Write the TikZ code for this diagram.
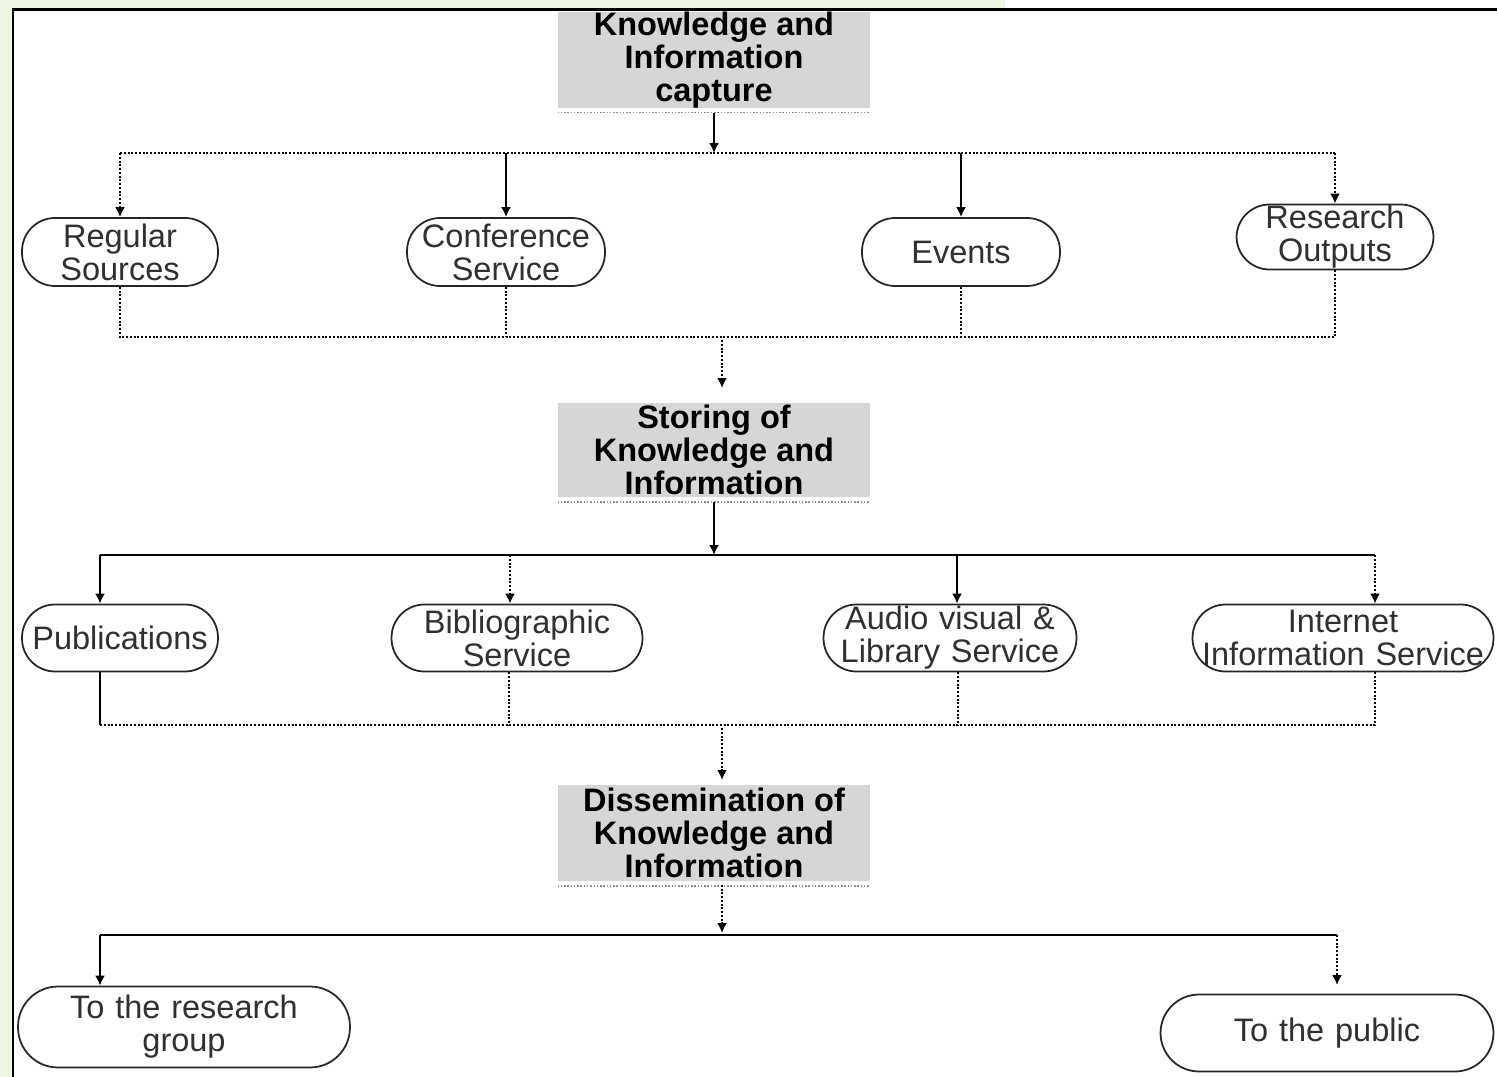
\documentclass[tikz,border=0pt]{standalone}
\usepackage{fontspec}
\setmainfont{Liberation Sans}
\usetikzlibrary{arrows.meta}
\definecolor{bggreen}{HTML}{EEF5E2}
\definecolor{boxgray}{HTML}{D6D6D6}
\definecolor{txtgray}{HTML}{303030}
\begin{document}
\begin{tikzpicture}[x=0.02cm,y=-0.02cm,
  pill/.style={draw=black!85, line width=0.035cm, rounded corners=0.66cm, inner sep=0pt,
    minimum height=1.36cm, align=center, text=txtgray, font=\fontsize{18.5}{18.8}\selectfont},
  head/.style={fill=boxgray, inner sep=0pt, minimum width=6.24cm, align=center,
    font=\bfseries\fontsize{18.5}{18.8}\selectfont},
  sol/.style={line width=0.04cm, black},
  dotl/.style={line width=0.04cm, black, densely dotted},
  tip/.style={-{Latex[length=0.2cm,width=0.2cm]}},
  faint/.style={black!45, densely dotted, line width=0.03cm}]
\useasboundingbox (0,0) rectangle (1497,1077);
\fill[white] (0,0) rectangle (1497,1077);
\fill[bggreen] (0,0) rectangle (12,1077);
\fill[bggreen] (0,0) rectangle (1005,9);
\draw[line width=0.06cm] (13,1077) -- (13,10) -- (1497,10);

% header boxes
\node[head, minimum height=1.92cm] (cap) at (714,60) {Knowledge and\\Information\\capture};
\node[head, minimum height=1.9cm] (stor) at (714,450) {Storing of\\Knowledge and\\Information};
\node[head, minimum height=1.94cm] (diss) at (714,833) {Dissemination of\\Knowledge and\\Information};
\foreach \n in {cap,stor,diss}
  \draw[faint] ([yshift=-0.08cm]\n.south west) -- ([yshift=-0.08cm]\n.south east);

% row 1
\node[pill, text width=3.92cm] (rs) at (120,252) {Regular\\Sources};
\node[pill, text width=3.96cm] (conf) at (506,252) {Conference\\Service};
\node[pill, text width=3.96cm] (ev) at (961,252) {Events};
\node[pill, text width=3.94cm, minimum height=1.3cm] (ro) at (1335,237) {Research\\Outputs};

% row 2
\node[pill, text width=3.92cm, minimum height=1.34cm] (pub) at (120,638) {Publications};
\node[pill, text width=5.02cm, minimum height=1.34cm] (bib) at (517,638) {Bibliographic\\Service};
\node[pill, text width=5.06cm, minimum height=1.34cm] (av) at (950,638) {Audio visual \&\\Library Service};
\node[pill, text width=6.02cm, minimum height=1.34cm] (inet) at (1343,638) {Internet\\Information Service};

% row 3
\node[pill, text width=6.64cm, minimum height=1.62cm, rounded corners=0.8cm] (rg) at (184,1027) {To the research\\group};
\node[pill, text width=6.66cm, minimum height=1.54cm, rounded corners=0.77cm] (tp) at (1327,1033) {To the public};

% capture -> row 1
\coordinate (b1) at (714,153);
\coordinate (b1l) at (120,153);
\coordinate (b1r) at (1335,153);
\draw[sol,tip] ([yshift=-0.08cm]cap.south) -- (b1);
\draw[dotl] (b1l) -- (b1r);
\draw[dotl,tip] (b1l) -- (rs.north);
\draw[sol,tip] (conf.north |- b1) -- (conf.north);
\draw[sol,tip] (ev.north |- b1) -- (ev.north);
\draw[dotl,tip] (b1r) -- (ro.north);

% row 1 -> storing
\coordinate (b2l) at (120,337);
\coordinate (b2r) at (1335,337);
\coordinate (b2c) at (722,340);
\coordinate (s2) at (722,388);
\draw[dotl] (rs.south) -- (b2l) -- (b2r) -- (ro.south);
\draw[dotl] (conf.south) -- (conf.south |- b2l);
\draw[dotl] (ev.south) -- (ev.south |- b2l);
\draw[dotl,tip] (b2c) -- (s2);

% storing -> row 2
\coordinate (b3) at (714,555);
\coordinate (b3l) at (100,555);
\coordinate (b3a) at (510,555);
\coordinate (b3b) at (957,555);
\coordinate (b3r) at (1375,555);
\draw[sol,tip] ([yshift=-0.08cm]stor.south) -- (b3);
\draw[sol] (b3l) -- (b3r);
\draw[sol,tip] (b3l) -- (pub.north -| b3l);
\draw[dotl,tip] (b3a) -- (bib.north -| b3a);
\draw[sol,tip] (b3b) -- (av.north -| b3b);
\draw[dotl,tip] (b3r) -- (inet.north -| b3r);

% row 2 -> dissemination
\coordinate (b4l) at (100,725);
\coordinate (b4a) at (509,725);
\coordinate (b4b) at (958,725);
\coordinate (b4r) at (1375,725);
\coordinate (b4c) at (722,728);
\coordinate (s4) at (722,780);
\draw[sol] (pub.south -| b4l) -- (b4l);
\draw[dotl] (b4l) -- (b4r) -- (inet.south -| b4r);
\draw[dotl] (bib.south -| b4a) -- (b4a);
\draw[dotl] (av.south -| b4b) -- (b4b);
\draw[dotl,tip] (b4c) -- (s4);

% dissemination -> row 3
\coordinate (b5c) at (722,933);
\coordinate (b5l) at (100,935);
\coordinate (b5r) at (1337,935);
\coordinate (s5) at (1337,985);
\draw[dotl,tip] ([yshift=-0.06cm]diss.south -| b5c) -- (b5c);
\draw[sol] (b5l) -- (b5r);
\draw[sol,tip] (b5l) -- (rg.north -| b5l);
\draw[dotl,tip] (b5r) -- (s5);
\end{tikzpicture}
\end{document}
